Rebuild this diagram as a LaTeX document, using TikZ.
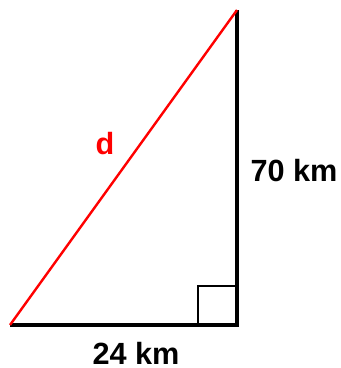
\documentclass[tikz,border=0pt]{standalone}
\usepackage{fontspec}
\setmainfont{Liberation Sans}
\usepackage{tikz}

\tikzset{
  side/.style={line width=2.3pt},
  hyp/.style={red,line width=1.8pt},
  lab/.style={font=\bfseries\fontsize{23}{26}\selectfont,inner sep=0pt}
}

\begin{document}
\begin{tikzpicture}[x=0.75pt,y=-0.75pt]
  \useasboundingbox (0,0) rectangle (340,368);
  % corners of the triangle
  \coordinate (A) at (10,325);
  \coordinate (B) at (237,325);
  \coordinate (C) at (237,10);
  % right angle mark
  \draw[line width=1pt] (198,325) -- (198,286) -- (237,286);
  \draw[side] (A) -- (B) -- (C);
  \draw[hyp] (A) -- (C);
  \node[lab] (base) at (136,353) {24 km};
  \node[lab] (height) at (294,171) {70 km};
  \node[lab,red] (dist) at (105,144) {d};
\end{tikzpicture}
\end{document}
